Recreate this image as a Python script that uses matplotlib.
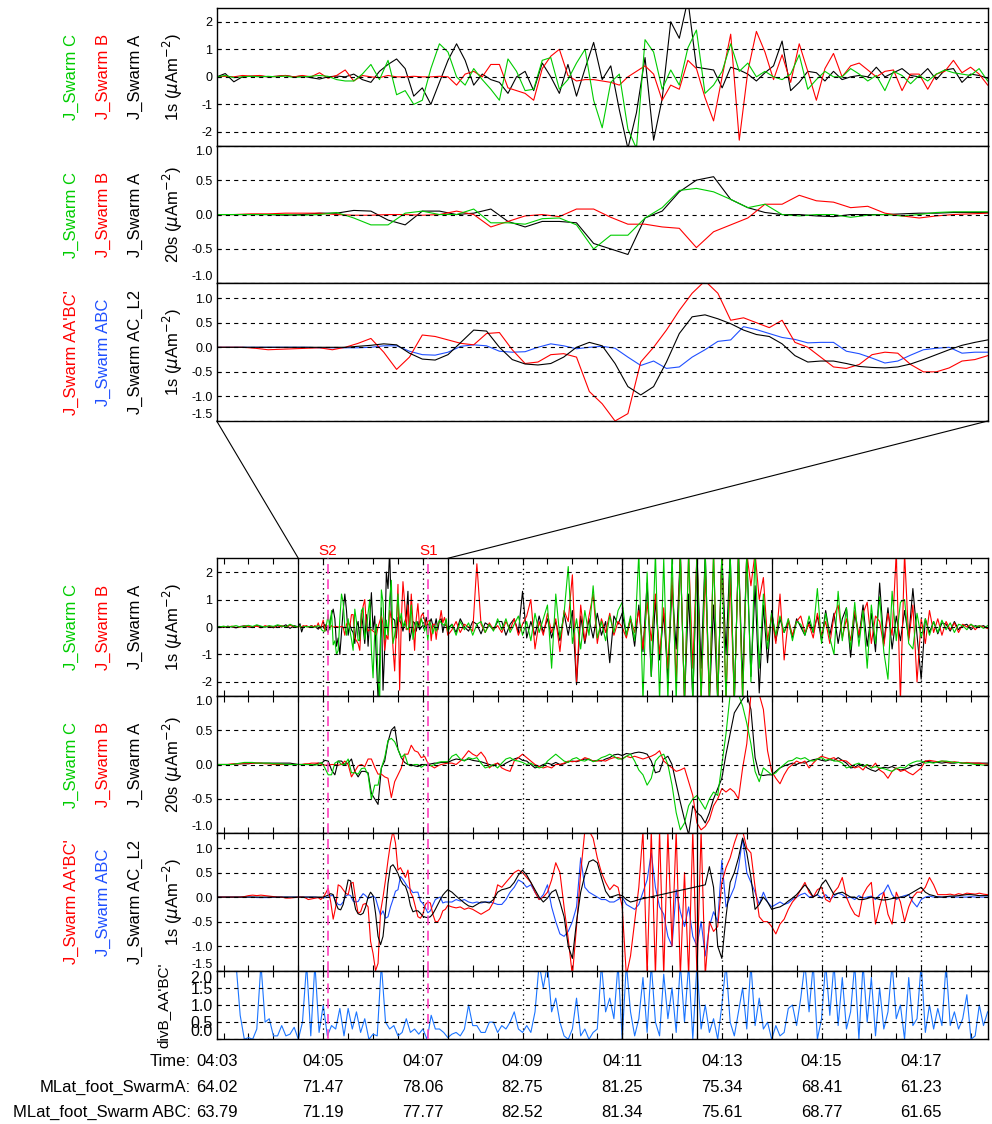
import numpy as np
import matplotlib
matplotlib.use("Agg")
import matplotlib.pyplot as plt
from matplotlib.patches import ConnectionPatch
from matplotlib import transforms

plt.rcParams["font.family"] = ["Liberation Sans", "DejaVu Sans"]
plt.rcParams["lines.scale_dashes"] = False

W, H = 992, 1124
XMIN, XMAX = 2.862, 18.335      # minutes after 04:00
WIN0, WIN1 = 4.5, 7.5           # zoomed window shown on top
S2, S1 = 5.09, 7.11
MARKS = [4.5, 7.5, 11.0, 12.5, 14.0]

GREEN, RED, BLUE, BLUE_DIV, PINK = "#00cc00", "#ff0000", "#1f4fff", "#1a75ff", "#ff3fbf"

# ---------- zoom window, 1s currents (every 2 s) ----------
J1_A_WIN = [0.0, 0.12, -0.18, 0.0, 0.02, 0.03, 0.0, 0.02, 0.05, 0.0,
            0.03, -0.03, -0.08, 0.0, 0.03, 0.0, 0.1, -0.1, -0.2, 0.2,
            0.45, 0.65, 0.3, -0.7, -0.4, -1.0, -0.2, 0.6, 1.2, 0.6,
            -0.3, 0.1, -0.1, -0.2, -0.6, 0.0, 0.2, -0.5, 0.5, 0.0,
            -0.6, 0.45, -0.7, 0.3, 1.25, -0.1, 0.4, -1.2, -2.6, -1.3,
            0.7, -2.3, -0.8, 2.0, 1.4, 2.8, 0.35, 0.3, 0.25, -0.4,
            0.35, 0.25, 0.1, -0.15, 0.15, 0.4, 1.3, -0.5, -0.2, 0.2,
            0.15, -0.15, 0.2, -0.1, 0.0, 0.05, 0.0, 0.35, 0.0, 0.15,
            0.3, 0.05, 0.0, 0.3, -0.1, 0.25, 0.3, -0.2, 0.1, 0.05,
            -0.05]
J1_B_WIN = [0.0, 0.02, 0.0, 0.05, 0.03, 0.05, 0.0, 0.02, 0.05, 0.0,
            0.05, 0.0, 0.15, -0.05, 0.05, 0.25, -0.15, 0.05, 0.0, -0.03,
            0.05, 0.0, 0.0, 0.02, 0.0, 0.0, 0.02, 0.0, -0.3, 0.1,
            0.2, 0.0, 0.45, 0.45, -0.4, -0.5, -0.6, -0.85, 0.3, 0.75,
            1.0, 0.05, -0.15, -0.1, -0.1, -0.15, -0.2, -0.3, 0.0, 0.2,
            0.4, 0.1, -0.85, -0.3, -0.45, 0.6, 0.3, -0.75, -1.6, 0.0,
            1.55, -2.3, 0.2, 1.65, 0.9, -0.1, 0.8, -0.2, 1.2, 0.2,
            -0.85, 0.3, 0.85, 0.0, 0.4, 0.5, 0.25, 0.0, 0.2, 0.25,
            -0.5, 0.1, 0.1, -0.45, 0.1, 0.2, 0.6, 0.15, 0.35, 0.1,
            -0.3]
J1_C_WIN = [0.0, 0.05, -0.03, 0.0, 0.02, 0.0, 0.02, 0.0, 0.03, -0.02,
            0.0, 0.02, 0.05, 0.02, -0.1, -0.15, -0.15, 0.1, 0.45, -0.1,
            0.6, -0.65, -0.5, -1.0, -0.85, 0.3, 1.2, 0.9, 0.0, -0.3,
            0.3, -0.1, -0.45, -0.85, 0.65, 0.2, -0.5, -0.45, 0.6, 0.7,
            -0.45, -0.1, 0.5, 1.0, -0.85, -1.85, -0.2, 0.1, -1.9, -2.6,
            1.35, 0.9, -0.45, 0.25, -0.3, 1.05, 1.7, -0.6, -0.3, 0.2,
            1.2, 0.2, 0.5, 0.0, 0.2, 0.0, -0.1, 0.1, 0.8, -0.45,
            -0.1, 0.2, 0.0, 0.0, 0.3, 0.1, -0.15, 0.05, -0.5, 0.2,
            0.05, -0.25, 0.05, -0.15, 0.1, 0.25, 0.15, 0.1, 0.05, 0.3,
            -0.15]

# ---------- zoom window, 20s currents (every 4 s) ----------
J20_A_WIN = [0.0, 0.0, 0.0, 0.0, -0.01, 0.0, 0.02, 0.02, 0.06, 0.05,
             -0.08, -0.15, 0.05, 0.05, 0.0, 0.02, 0.08, -0.1, -0.18, -0.1,
             -0.1, -0.12, -0.42, -0.5, -0.58, -0.05, 0.05, 0.33, 0.5, 0.55,
             0.22, 0.1, 0.03, 0.0, 0.0, -0.02, -0.03, 0.0, 0.0, 0.0,
             0.01, 0.02, 0.02, 0.03, 0.03, 0.03]
J20_B_WIN = [0.0, 0.0, 0.01, 0.01, 0.02, 0.02, 0.02, 0.0, -0.01, -0.01,
             0.0, 0.0, -0.01, 0.0, 0.05, 0.0, -0.18, -0.1, -0.02, 0.0,
             -0.03, 0.08, 0.08, -0.04, -0.14, -0.14, -0.18, -0.2, -0.48, -0.25,
             -0.15, -0.05, 0.15, 0.15, 0.28, 0.2, 0.18, 0.1, 0.12, 0.02,
             -0.02, -0.05, -0.02, 0.0, 0.01, 0.02]
J20_C_WIN = [0.0, 0.0, 0.0, 0.0, 0.0, -0.01, 0.0, 0.03, -0.05, -0.15,
             -0.15, 0.02, 0.05, 0.0, 0.0, 0.08, -0.12, -0.12, -0.14, -0.06,
             -0.05, -0.15, -0.5, -0.3, -0.3, -0.05, 0.1, 0.35, 0.38, 0.33,
             0.22, 0.1, 0.15, 0.0, -0.02, 0.0, 0.0, -0.04, -0.01, 0.0,
             -0.02, 0.0, 0.03, 0.04, 0.04, 0.04]

# ---------- zoom window, L2 / ABC / AA'BC' (every 3 s) ----------
JL2_WIN = [0.0, 0.0, 0.0, 0.0, 0.0, 0.0, 0.0, 0.0, 0.0, 0.0,
           0.0, 0.02, 0.04, 0.07, 0.05, -0.12, -0.24, -0.26, -0.15, 0.1,
           0.35, 0.33, 0.0, -0.25, -0.34, -0.36, -0.33, -0.2, 0.0, 0.1,
           0.03, -0.33, -0.8, -0.97, -0.8, -0.3, 0.28, 0.62, 0.66, 0.58,
           0.48, 0.35, 0.26, 0.22, 0.07, -0.17, -0.3, -0.28, -0.28, -0.33,
           -0.39, -0.41, -0.42, -0.4, -0.34, -0.25, -0.15, -0.05, 0.04, 0.1,
           0.15]
JABC_WIN = [0.0, 0.0, 0.0, 0.0, 0.0, 0.0, 0.0, 0.0, -0.01, -0.01,
            -0.01, -0.01, 0.0, 0.03, 0.03, -0.08, -0.15, -0.16, -0.1, 0.02,
            0.05, 0.03, -0.08, -0.1, -0.09, 0.0, 0.07, 0.03, -0.03, 0.0,
            0.02, -0.02, -0.2, -0.37, -0.28, -0.43, -0.4, -0.2, -0.05, 0.12,
            0.15, 0.42, 0.36, 0.28, 0.2, 0.16, 0.09, 0.1, 0.1, -0.08,
            -0.13, -0.22, -0.32, -0.28, -0.16, -0.05, -0.02, 0.0, -0.12, -0.1,
            -0.1]
JAAB_WIN = [0.0, 0.0, 0.0, -0.02, -0.05, -0.04, -0.03, -0.02, -0.01, -0.05,
            0.0, 0.08, 0.18, -0.1, -0.45, -0.2, 0.25, 0.22, 0.15, 0.08,
            0.05, 0.28, 0.3, -0.05, -0.33, -0.3, -0.15, -0.13, -0.2, -0.9,
            -1.15, -1.5, -1.35, -0.3, 0.0, 0.35, 0.75, 1.1, 1.35, 1.1,
            0.55, 0.6, 0.5, 0.4, 0.55, 0.1, 0.0, -0.2, -0.4, -0.43,
            -0.35, -0.15, -0.1, -0.12, -0.35, -0.5, -0.5, -0.42, -0.28, -0.25,
            -0.17]

# ---------- full pass: before the window (every 5 s) ----------
J1_A_PRE = [0.0, 0.02, -0.02, 0.03, 0.0, -0.03, 0.02, 0.04, 0.0, -0.02,
            0.05, 0.02, 0.0, 0.03, -0.03, 0.05, 0.0, 0.08, -0.05, 0.05]
J1_B_PRE = [0.0, -0.02, 0.02, 0.0, 0.03, -0.02, 0.0, 0.04, 0.02, 0.0,
            0.03, -0.03, 0.05, 0.0, 0.02, -0.02, 0.05, 0.0, 0.06, 0.02]
J1_C_PRE = [0.02, 0.0, 0.03, 0.0, 0.02, 0.05, 0.0, 0.03, 0.06, 0.02,
            0.08, 0.03, 0.0, 0.05, 0.02, 0.08, 0.04, 0.0, 0.1, 0.03]
J20_A_PRE = [0.0, 0.0, 0.0, 0.0, 0.0, 0.01, 0.01, 0.01, 0.01, 0.02,
             0.02, 0.02, 0.02, 0.02, 0.02, 0.02, 0.02, 0.02, 0.02, 0.01]
J20_B_PRE = [0.0, 0.0, 0.0, 0.0, 0.01, 0.01, 0.01, 0.02, 0.02, 0.02,
             0.02, 0.02, 0.01, 0.01, 0.0, 0.0, 0.0, 0.0, 0.0, 0.0]
J20_C_PRE = [0.0, 0.0, 0.0, 0.0, 0.0, 0.01, 0.02, 0.03, 0.03, 0.03,
             0.02, 0.02, 0.02, 0.02, 0.01, 0.01, 0.01, 0.0, 0.0, 0.0]
JL2_PRE = [0.0, 0.0, 0.0, 0.0, 0.0, 0.0, 0.0, 0.0, 0.0, 0.0,
           0.0, 0.0, 0.0, 0.0, 0.0, 0.0, 0.0, 0.0, 0.0, 0.0]
JABC_PRE = [0.0, 0.0, 0.0, 0.0, 0.0, 0.0, 0.0, 0.0, 0.0, 0.0,
            -0.01, -0.01, -0.01, -0.01, 0.0, 0.0, 0.0, 0.0, 0.0, 0.0]
JAAB_PRE = [0.0, 0.0, 0.0, 0.0, 0.0, 0.0, 0.0, 0.01, 0.03, 0.04,
            0.03, 0.04, 0.03, 0.02, 0.01, 0.0, 0.0, -0.02, -0.02, -0.01]

# ---------- full pass: after the window (every 5 s) ----------
J1_A_POST = [0.1, -0.2, 0.3, 0.0, -0.15, 0.2, 0.1, -0.25, 0.15, 0.05, -0.1, 0.2,
             0.2, -0.3, 0.1, 0.3, -0.2, 1.3, -0.4, 0.2, -0.3, 0.4,
             -0.2, 0.3, -0.4, 0.2, -0.5, 0.5, -0.3, 0.6, -2.1, 0.4,
             -0.6, 0.3, -0.4, 0.5, -0.3, 0.2, -1.3, 0.4, 0.1, 0.5,
             -0.3, 0.3, -0.7,
             0.8, -0.9, 1.6, -1.8, 1.0, -1.2, 0.5, -1.9, 1.5, -0.8,
             2.7, -2.7, 1.2, -2.7, 2.7, -1.5, 2.7, -2.7, 0.8, -2.7,
             2.7, -1.0, 2.7, -2.7, 2.7, -2.0, 2.7, -1.8, 1.5, -2.4,
             0.8, -1.3, 0.6,
             -0.5, 0.3, -0.2, 0.2, -0.4, 0.3, 0.0, -0.3, 0.2, -0.2,
             0.4, -0.5, 0.6, -0.3, 0.5, -0.6, 0.3, 0.7, -1.1, 0.5,
             -0.4, 0.8, -0.7, 0.5, -0.9, 1.6, -0.6, 0.7, -0.8, 0.4,
             -0.5, 0.6, -0.4, 1.4, -0.3, -1.9,
             0.3, -0.2, 0.2, -0.25, 0.15, 0.1, -0.15, 0.2, -0.1, 0.05,
             0.1, -0.1, 0.05, 0.0, 0.05, -0.05]
J1_B_POST = [-0.1, 0.2, -0.2, 0.1, 0.0, -0.15, 2.3, 0.1, -0.2, 0.15, -0.1, 0.05,
             -0.2, 0.2, -0.1, 0.3, -0.3, 0.1, 0.4, 1.0, -0.8, 0.2,
             -0.3, 0.5, -0.2, 0.3, -0.9, 0.6, 0.2, 1.9, -2.0, 0.8,
             -0.5, 0.4, 1.2, -0.6, 0.3, -0.2, 0.5, -0.3, 0.2, 0.0,
             -0.4, 0.3, -0.2,
             0.6, -0.8, 0.9, -0.5, 1.2, -1.0, 0.7, -1.5, 1.8, -2.0,
             2.7, -2.7, 2.7, -1.5, 2.7, -2.7, 2.0, -2.7, 2.7, -2.7,
             2.7, -2.7, 1.8, -2.7, 2.7, -2.7, 2.7, 1.5, 2.7, 1.0,
             1.8, -0.5, 0.4,
             -0.6, 1.2, -1.2, 0.3, -0.3, 0.2, 0.4, -0.2, 0.1, -0.4,
             0.5, -0.3, 0.2, -0.6, 0.4, 0.8, -0.4, 0.3, -0.5, 0.6,
             -0.3, 0.5, 0.9, -0.6, 0.4, 0.2, -0.7, 0.5, -0.3, 2.7,
             -2.7, 2.7, -0.5, 0.8, -2.0, 0.3,
             -0.6, 0.6, -0.2, 0.3, -0.3, 0.2, -0.1, 0.15, -0.2, 0.1,
             0.0, 0.1, -0.1, 0.05, 0.0, -0.05]
J1_C_POST = [0.1, -0.3, 0.2, -0.1, 0.15, -0.3, 0.1, 0.2, -0.2, 0.1, -0.15, 0.3,
             -0.1, 0.3, -0.2, 0.1, 0.4, -0.3, 0.2, -0.5, 0.5, -0.2,
             0.3, 0.8, -1.5, 1.2, -0.4, 0.5, 2.2, -0.6, 0.3, -0.8,
             0.6, -0.3, 1.5, -0.4, 0.2, -0.5, 0.4, -0.2, 0.6, 0.9,
             -0.3, 0.4, -0.5,
             2.7, -2.7, 2.0, -1.8, 2.7, -2.7, 2.5, -2.7, 2.7, -2.7,
             2.7, -2.7, 2.7, -2.7, 2.7, -2.7, 2.7, -2.7, 2.7, -2.7,
             2.7, -2.7, 2.7, -2.7, 2.7, -2.7, 2.7, -2.0, 2.7, -1.5,
             1.2, -0.8, 0.5,
             -0.3, 0.4, -0.2, 0.3, -0.5, 0.2, 0.1, -0.3, 0.4, -0.2,
             1.4, -0.6, 0.5, -0.4, -1.0, 1.3, -0.5, 0.7, -0.8, 0.9,
             -0.7, 0.6, -1.5, 0.8, -0.6, 1.1, -0.9, -1.9, 1.3, -0.5,
             0.9, 1.0, -0.6, -0.8, 0.5, -0.4,
             0.3, -0.3, 0.2, -0.2, 0.25, -0.1, 0.15, -0.2, 0.1, 0.05,
             -0.1, 0.1, 0.0, 0.05, -0.05, 0.05]

J20_A_POST = [0.06, 0.08, 0.07, 0.06, 0.08, 0.06, 0.05, 0.04, 0.02, 0.0, -0.02, 0.02,
              -0.02, 0.02, 0.05, 0.08, 0.1, 0.06, 0.05, 0.0, -0.05, -0.03,
              0.0, 0.02, 0.0, 0.03, 0.0, 0.01, 0.04, 0.05, 0.04, 0.06,
              0.08, 0.07, 0.05, 0.06, 0.05, 0.08, 0.1, 0.14, 0.15, 0.13,
              0.16, 0.15, 0.17,
              0.18, 0.17, 0.15, 0.05, -0.12, -0.1, 0.08, 0.12, 0.0, -0.28,
              -0.55, -0.8, -1.02, -0.6, -0.7, -0.75, -0.85, -0.7, -0.5, -0.35,
              -0.2, 0.15, 0.45, 0.75, 0.85, 0.95, 1.02, 0.8, 0.1, -0.15,
              -0.16, -0.15, -0.15,
              -0.1, -0.05, -0.02, 0.0, 0.02, 0.0, 0.03, 0.02, 0.05, 0.07,
              0.08, 0.06, 0.05, 0.07, 0.06, 0.1, 0.06, 0.02, -0.05, -0.04,
              0.0, 0.0, -0.05, -0.08, -0.1, -0.06, -0.04, -0.05, -0.03, -0.06,
              -0.08, -0.07, -0.05, -0.02, 0.0, 0.02,
              0.05, 0.04, 0.03, 0.03, 0.02, 0.03, 0.02, 0.02, 0.03, 0.02,
              0.02, 0.02, 0.02, 0.02, 0.02, 0.02]
J20_B_POST = [0.02, 0.0, 0.05, 0.12, 0.2, 0.15, 0.12, 0.18, 0.1, -0.05, 0.0, 0.02,
              -0.05, -0.08, -0.1, 0.05, 0.1, 0.15, 0.1, 0.05, 0.0, -0.03,
              -0.05, -0.03, -0.05, 0.0, 0.0, 0.02, 0.05, 0.04, 0.05, 0.06,
              0.1, 0.08, 0.05, 0.05, 0.06, 0.05, 0.08, 0.1, 0.1, 0.08,
              0.12, 0.1, 0.12,
              0.1, 0.08, 0.1, 0.12, 0.15, 0.2, 0.05, 0.0, -0.05, -0.1,
              -0.08, -0.05, -0.25, -0.45, -0.85, -0.95, -0.9, -0.8, -0.6, -0.5,
              -0.35, -0.4, -0.35, -0.4, -0.5, -0.05, 0.3, 1.02, 1.02, 1.02,
              0.8, 0.2, -0.1,
              -0.2, -0.28, -0.15, -0.05, 0.0, 0.05, 0.02, 0.05, -0.05, 0.02,
              0.08, 0.12, 0.1, 0.08, 0.1, 0.05, 0.06, 0.05, 0.0, -0.05,
              -0.03, -0.08, 0.0, -0.05, 0.02, -0.08, -0.12, -0.2, -0.1, -0.05,
              -0.1, -0.08, -0.12, -0.15, -0.1, -0.05,
              0.05, 0.06, 0.05, 0.04, 0.05, 0.04, 0.03, 0.04, 0.03, 0.02,
              0.03, 0.02, 0.02, 0.02, 0.01, 0.0]
J20_C_POST = [0.12, 0.15, 0.08, 0.05, 0.1, 0.08, 0.1, 0.02, -0.05, -0.03, 0.0, -0.05,
              0.02, 0.08, 0.1, 0.06, 0.05, 0.03, 0.0, 0.02, -0.02, -0.05,
              -0.03, 0.05, 0.1, 0.15, 0.1, 0.05, 0.03, 0.08, 0.1, 0.06,
              0.05, 0.08, 0.04, 0.06, 0.1, 0.12, 0.15, 0.12, 0.08, 0.08,
              0.12, 0.15, 0.05,
              -0.08, -0.15, -0.3, -0.2, 0.05, 0.12, 0.15, 0.0, -0.3, -0.7,
              -0.95, -0.85, -0.6, -0.5, -0.45, -0.55, -0.65, -0.5, -0.4, -0.45,
              0.0, 0.45, 1.02, 1.02, 1.02, 0.85, 0.6, 0.3, -0.1, -0.25,
              -0.05, -0.1, -0.15,
              -0.12, -0.05, 0.0, 0.05, 0.06, 0.1, 0.08, 0.1, 0.06, 0.05,
              0.08, 0.1, 0.06, 0.08, 0.05, 0.05, 0.02, -0.05, -0.03, 0.0,
              0.02, -0.03, 0.0, -0.05, -0.03, -0.05, -0.06, -0.08, -0.1, -0.06,
              -0.04, -0.05, 0.0, 0.03, 0.05, 0.05,
              0.02, 0.03, 0.02, 0.04, 0.05, 0.05, 0.04, 0.03, 0.03, 0.02,
              0.02, 0.01, 0.0, 0.0, -0.01, -0.01]

nan = np.nan
JL2_POST = [0.1, 0.02, -0.05, -0.12, -0.18, -0.2, -0.15, -0.1, -0.1, -0.12, -0.05, 0.1,
            0.15, 0.17, 0.2, 0.3, 0.45, 0.55, 0.45, 0.3, 0.15, 0.0,
            -0.1, -0.02, 0.1, 0.15, -0.1, -0.4, -1.0, -1.25, -0.5, 0.1,
            0.45, 0.72, 0.76, 0.7, 0.4, 0.12, 0.0, 0.02, 0.05, 0.03,
            -0.05, -0.1, -0.08, -0.05,
            nan, nan, nan, nan, nan, nan, nan, nan, nan, nan, nan, nan, nan, nan, nan,
            0.25, 0.62, 0.2, -1.0, -1.25, -0.4, 0.3, 0.5, 0.8, 1.2,
            0.9, 0.4, -0.25, -0.15, 0.0, -0.1, -0.25, -0.22, -0.2, -0.15,
            -0.08, -0.02, 0.05, 0.15, 0.25, 0.15, 0.0, 0.05, 0.25, 0.35,
            0.2, 0.05, 0.08, 0.1, 0.05, 0.0, 0.0, -0.05, -0.05, -0.03,
            0.0, -0.02, -0.05, -0.06, -0.05, -0.03, -0.02, 0.0, 0.0, 0.05,
            0.1, 0.15, 0.2, 0.1, 0.05, 0.03, 0.0, 0.0, 0.01, 0.02,
            0.02, 0.03, 0.04, 0.05, 0.05, 0.04, 0.03, 0.03, 0.03]
JABC_POST = [-0.1, -0.05, -0.08, -0.05, -0.1, -0.12, -0.1, -0.12, -0.1, -0.1, -0.12, -0.15,
             -0.15, -0.05, 0.1, 0.2, 0.35, 0.3, 0.2, 0.25, 0.1, -0.05,
             0.05, 0.25, -0.2, -0.5, -0.75, -0.8, -0.7, -0.5, -0.2, 0.8,
             0.2, 0.1, 0.05, 0.0, -0.05, -0.05, -0.1, -0.1, -0.05, 0.0,
             -0.15, -0.2, -0.25, -0.15, 0.1, 0.35, 0.9, 0.2, -0.2, -0.35,
             -0.8, -1.0, 0.15, -0.3, -0.6, -0.2, -0.8, -1.0, -0.5, -1.2,
             -0.6, -0.3, -0.5, 0.75, -0.2, 0.0, 0.2, 0.6, 1.2, 0.5,
             0.3, 0.1, -0.15, 0.1, -0.1, -0.2, -0.15, -0.1, -0.15, -0.12,
             -0.05, 0.0, 0.05, 0.08, 0.0, 0.02, 0.05, -0.02, 0.05, -0.05,
             0.02, 0.08, 0.05, -0.02, 0.0, -0.05, 0.03, -0.02, 0.0, 0.02,
             -0.05, 0.05, 0.1, 0.25, 0.05, -0.05, 0.0, 0.03, 0.05, -0.1,
             -0.2, -0.05, 0.0, 0.02, 0.0, 0.01, 0.0, 0.0, 0.01, 0.0,
             0.0, 0.0, 0.0, 0.01, 0.0, 0.0, 0.0, 0.0]
JAAB_POST = [-0.2, -0.22, -0.2, -0.25, -0.22, -0.25, -0.3, -0.35, -0.3, -0.25, -0.1, 0.25,
             0.2, 0.3, 0.4, 0.5, 0.55, 0.5, 0.4, 0.3, 0.1, -0.05,
             0.0, 0.1, 0.35, 0.7, 0.5, -0.2, -0.85, -1.6, -0.6, 0.5,
             1.35, 1.35, 1.2, 0.8, 0.5, 0.3, 0.15, 0.25, 0.2, -0.2,
             -1.6, -1.2, -0.5, 0.2, 1.35, -1.6, 1.35, -1.6, 1.35, -1.6,
             1.35, -1.0, 1.35, -1.6, 0.5, -1.6, 1.35, -1.6, 1.35, -1.6,
             -0.5, -0.7, -0.6, 0.3, 0.6, 0.8, 1.1, 1.35, 1.35, 1.0,
             0.9, 0.2, -0.4, -0.5, -0.5, -0.6, -0.75, -0.55, -0.45, -0.25,
             -0.1, 0.0, 0.15, 0.3, 0.1, 0.0, 0.15, 0.2, -0.05, -0.1,
             0.1, 0.2, 0.4, 0.0, -0.2, -0.35, -0.4, 0.05, 0.2, 0.3,
             -0.55, -0.2, 0.1, -0.35, -0.55, 0.1, -0.1, -0.5, -0.2, 0.0,
             0.1, 0.1, 0.2, 0.4, 0.25, 0.05, 0.05, 0.05, 0.06, 0.04,
             0.07, 0.05, 0.08, 0.07, 0.06, 0.08, 0.06, 0.05]

# ---------- divergence of B, whole pass (every 5 s) ----------
DIVB = [2.5, 2.5, 2.5, 2.5, 2.5, 2.2, 0.7, 0.0, 0.05, 0.0,
        0.3, 2.2, 0.5, 0.6, 0.1, 0.1, 0.4, 0.1, 0.15, 0.35,
        0.0, 0.5, 2.2, 0.1, 2.2, 0.2, 1.0, 0.1, 0.4, 0.3,
        0.9, 0.1, 0.9, 0.3, 0.8, 0.2, 0.6, 0.0, 0.15, 0.1,
        2.2, 0.5, 0.3, 0.4, 0.1, 0.2, 0.6, 0.2, 0.3, 0.15,
        0.3, 0.0, 0.7, 0.3, 0.3, 0.2, 0.05, 0.15, 0.2, 0.1,
        0.3, 1.0, 0.4, 0.4, 0.2, 0.2, 0.5, 0.5, 0.2, 0.4,
        0.3, 0.5, 0.8, 0.3, 0.2, 0.4, 0.2, 0.8, 2.2, 1.5,
        2.2, 0.8, 1.2, 0.5, 0.1, 0.0, 0.3, 1.2, 0.1, 0.3,
        0.0, 0.2, 0.3, 2.2, 0.8, 1.2, 0.6, 2.2, 0.0, 2.2,
        0.8, 0.1, 0.6, 1.8, 0.2, 2.2, 0.5, 0.1, 1.9, 0.6,
        1.5, 0.2, 2.2, 0.5, 2.2, 0.0, 2.2, 0.3, 1.0, 0.2,
        0.6, 0.0, 1.0, 2.2, 0.5, 0.1, 0.8, 1.5, 0.3, 2.2,
        0.4, 1.2, 0.3, 0.5, 0.0, 0.4, 0.1, 0.2, 0.9, 1.0,
        0.4, 1.2, 2.2, 0.8, 2.2, 0.0, 0.6, 2.2, 0.7, 2.2,
        0.4, 1.8, 0.3, 0.8, 2.2, 0.0, 2.2, 0.5, 1.8, 0.1,
        1.5, 0.3, 0.8, 2.2, 0.6, 1.0, 0.0, 1.8, 0.4, 0.6,
        2.2, 0.2, 1.0, 0.3, 0.9, 0.4, 2.2, 0.4, 0.8, 0.3,
        0.6, 1.3, 0.0, 0.1, 1.0, 0.4, 0.8]

TIME_LABELS = ["04:03", "04:05", "04:07", "04:09", "04:11", "04:13", "04:15", "04:17"]
LABEL_TIMES = [XMIN, 5, 7, 9, 11, 13, 15, 17]
MLAT_A = ["64.02", "71.47", "78.06", "82.75", "81.25", "75.34", "68.41", "61.23"]
MLAT_ABC = ["63.79", "71.19", "77.77", "82.52", "81.34", "75.61", "68.77", "61.65"]

# sample times (minutes after 04:00)
t_w1 = WIN0 + np.arange(0, 181, 2) / 60
t_w20 = WIN0 + np.arange(0, 181, 4) / 60
t_wl2 = WIN0 + np.arange(0, 181, 3) / 60
t_pre = WIN0 - np.arange(20, 0, -1) * 5 / 60
t_post = WIN1 + np.arange(1, 131) * 5 / 60
t_div = WIN0 - 20 * 5 / 60 + np.arange(len(DIVB)) * 5 / 60


def joined(tw, pre, win, post):
    t = np.concatenate([t_pre, tw, t_post])
    y = np.concatenate([pre, win, post]).astype(float)
    ok = np.isfinite(y)
    return t[ok], y[ok]


fig = plt.figure(figsize=(W / 100, H / 100), dpi=100)


def panel(y0, y1):
    return fig.add_axes([216.7 / W, 1 - y1 / H, 771.0 / W, (y1 - y0) / H])


def style_y(ax, lim, ticks, labels, fs=9):
    ax.set_ylim(*lim)
    ax.set_yticks(ticks)
    ax.set_yticklabels(labels, fontsize=fs)
    ax.tick_params(axis="y", direction="in", length=3, pad=3)
    for v in ticks:
        ax.axhline(v, color="k", lw=0.8, ls=(0, (3, 3)), zorder=3)
    tl = ax.get_yticklabels()
    if ticks[-1] >= lim[1]:
        tl[-1].set_va("top")
    if ticks[0] <= lim[0]:
        tl[0].set_va("bottom")
    for s in ax.spines.values():
        s.set_linewidth(1.0)


Y1 = ((-2.5, 2.5), [-2, -1, 0, 1, 2], ["-2", "-1", "0", "1", "2"])
Y20 = ((-1, 1), [-1, -0.5, 0, 0.5, 1], ["-1.0", "-0.5", "0.0", "0.5", "1.0"])
YL2 = ((-1.5, 1.3), [-1.5, -1, -0.5, 0, 0.5, 1], ["-1.5", "-1.0", "-0.5", "0.0", "0.5", "1.0"])

UNIT1 = r"1s ($\mu$Am$^{-2}$)"
UNIT20 = r"20s ($\mu$Am$^{-2}$)"
LAB_ABC = [("J_Swarm C", GREEN, 71), ("J_Swarm B", RED, 103), ("J_Swarm A", "k", 135)]
LAB_L2 = [("J_Swarm AA'BC'", RED, 71), ("J_Swarm ABC", BLUE, 103), ("J_Swarm AC_L2", "k", 135)]


def side_labels(y0, y1, labs, unit):
    yc = 1 - (y0 + y1) / 2 / H
    for txt, col, x in labs:
        fig.text(x / W, yc, txt, color=col, rotation=90, ha="center", va="center", fontsize=12)
    fig.text(173 / W, yc, unit, rotation=90, ha="center", va="center", fontsize=12)


# ---------------- top: zoomed window ----------------
tops = [(8, 145.7), (145.7, 283.4), (283.4, 421)]
ta = [panel(*b) for b in tops]
ta[0].plot(t_w1, J1_A_WIN, color="k", lw=0.8)
ta[0].plot(t_w1, J1_B_WIN, color=RED, lw=0.8)
ta[0].plot(t_w1, J1_C_WIN, color=GREEN, lw=0.8)
ta[1].plot(t_w20, J20_A_WIN, color="k", lw=0.8)
ta[1].plot(t_w20, J20_B_WIN, color=RED, lw=0.8)
ta[1].plot(t_w20, J20_C_WIN, color=GREEN, lw=0.8)
ta[2].plot(t_wl2, JABC_WIN, color=BLUE, lw=0.8)
ta[2].plot(t_wl2, JAAB_WIN, color=RED, lw=0.8)
ta[2].plot(t_wl2, JL2_WIN, color="k", lw=0.8)
for ax, ys in zip(ta, [Y1, Y20, YL2]):
    ax.set_xlim(WIN0, WIN1)
    ax.set_xticks([])
    style_y(ax, *ys)
side_labels(*tops[0], LAB_ABC, UNIT1)
side_labels(*tops[1], LAB_ABC, UNIT20)
side_labels(*tops[2], LAB_L2, UNIT1)

# ---------------- bottom: full pass ----------------
bots = [(558.3, 695.7), (695.7, 833.3), (833.3, 970.7), (970.7, 1039.3)]
ba = [panel(*b) for b in bots]
for t, y, c in [(t_w1, (J1_A_PRE, J1_A_WIN, J1_A_POST), "k"),
                (t_w1, (J1_B_PRE, J1_B_WIN, J1_B_POST), RED),
                (t_w1, (J1_C_PRE, J1_C_WIN, J1_C_POST), GREEN)]:
    ba[0].plot(*joined(t, *y), color=c, lw=0.8)
for t, y, c in [(t_w20, (J20_A_PRE, J20_A_WIN, J20_A_POST), "k"),
                (t_w20, (J20_B_PRE, J20_B_WIN, J20_B_POST), RED),
                (t_w20, (J20_C_PRE, J20_C_WIN, J20_C_POST), GREEN)]:
    ba[1].plot(*joined(t, *y), color=c, lw=0.8)
for t, y, c in [(t_wl2, (JABC_PRE, JABC_WIN, JABC_POST), BLUE),
                (t_wl2, (JAAB_PRE, JAAB_WIN, JAAB_POST), RED),
                (t_wl2, (JL2_PRE, JL2_WIN, JL2_POST), "k")]:
    ba[2].plot(*joined(t, *y), color=c, lw=0.8)
ba[3].plot(t_div, DIVB, color=BLUE_DIV, lw=0.8)

Y4 = ((0, 2), [0, 0.5, 1, 1.5, 2], ["0.0", "0.5", "1.0", "1.5", "2.0"])
for ax, ys, fs in zip(ba, [Y1, Y20, YL2, Y4], [9, 9, 9, 11.5]):
    ax.set_xlim(XMIN, XMAX)
    ax.set_xticks(np.arange(3, 18.01, 0.5))
    ax.set_xticklabels([])
    ax.tick_params(axis="x", direction="in", top=True, bottom=True, length=4)
    style_y(ax, *ys, fs=fs)
    for v in range(5, 18, 2):
        ax.axvline(v, color="k", lw=0.9, ls=(0, (1, 2.5)), zorder=3)
    for v in MARKS:
        ax.axvline(v, color="k", lw=0.9, zorder=3)
    for v in (S2, S1):
        ax.axvline(v, color=PINK, lw=1.2, ls=(0, (7, 4)), zorder=4)

side_labels(*bots[0], LAB_ABC, UNIT1)
side_labels(*bots[1], LAB_ABC, UNIT20)
side_labels(*bots[2], LAB_L2, UNIT1)
fig.text(163 / W, 1 - (bots[3][0] + bots[3][1]) / 2 / H, "divB_AA'BC'",
         rotation=90, ha="center", va="center", fontsize=11)

# S1 / S2 markers
tb = transforms.blended_transform_factory(ba[0].transData, ba[0].transAxes)
for x, s in [(S2, "S2"), (S1, "S1")]:
    ba[0].text(x, 1.0, s, transform=tb, color=RED, ha="center", va="bottom", fontsize=11)

# zoom connectors
for xa, xb in [(0, WIN0), (1, WIN1)]:
    con = ConnectionPatch(xyA=(xa, 0), coordsA=ta[2].transAxes,
                          xyB=(xb, 2.5), coordsB=ba[0].transData, color="k", lw=0.8)
    fig.add_artist(con)

# time / MLat rows
tr = transforms.blended_transform_factory(ba[3].transData, fig.transFigure)
rows = [(1066, "Time:", TIME_LABELS), (1092, "MLat_foot_SwarmA:", MLAT_A),
        (1117, "MLat_foot_Swarm ABC:", MLAT_ABC)]
for ypx, title, vals in rows:
    fig.text(191 / W, 1 - ypx / H, title, ha="right", va="baseline", fontsize=12)
    for x, s in zip(LABEL_TIMES, vals):
        ba[3].text(x, 1 - ypx / H, s, transform=tr, ha="center", va="baseline", fontsize=12)

fig.savefig("out.png", dpi=100)
